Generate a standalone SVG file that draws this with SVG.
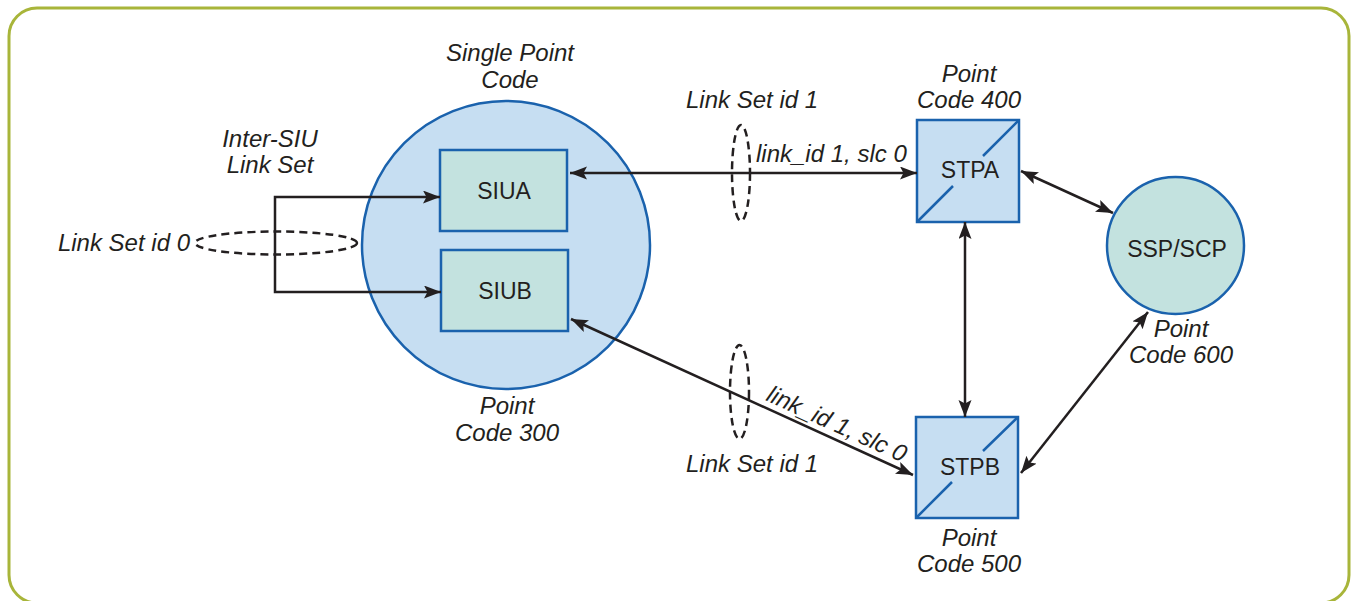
<svg xmlns="http://www.w3.org/2000/svg" width="1353" height="601" viewBox="0 0 1353 601">
<style>
.lbl{font-family:"Liberation Sans",Arial,sans-serif;font-size:24px;font-style:italic;fill:#231f20;text-anchor:middle}
.lbl-r{font-family:"Liberation Sans",Arial,sans-serif;font-size:24px;font-style:italic;fill:#231f20;text-anchor:end}
.lbl-s{font-family:"Liberation Sans",Arial,sans-serif;font-size:24px;font-style:italic;fill:#231f20;text-anchor:start}
.name{font-family:"Liberation Sans",Arial,sans-serif;font-size:23px;fill:#231f20;text-anchor:middle}
.conn{stroke:#231f20;stroke-width:2.5;fill:none}
.dash{stroke:#231f20;stroke-width:2.5;fill:none;stroke-dasharray:8 5}
.blue{fill:#c6def2;stroke:#1a62ad;stroke-width:2.5}
.teal{fill:#c3e2df;stroke:#1a62ad;stroke-width:2.5}
.diag{stroke:#1a62ad;stroke-width:2.5;fill:none}
</style>
<defs>
<marker id="ah" markerUnits="userSpaceOnUse" markerWidth="19" markerHeight="14" refX="17" refY="6.5" orient="auto-start-reverse" viewBox="0 0 19 14">
<path d="M0,0 L17,6.5 L0,13 L3.5,6.5 z" fill="#231f20"/>
</marker>
</defs>
<rect x="9" y="8" width="1340" height="595" rx="28" ry="28" fill="#ffffff" stroke="#a8b53a" stroke-width="3"/>

<g id="spc">
<circle cx="506" cy="245" r="144" class="blue" stroke-width="2"/>
<text class="lbl" x="510" y="61">Single Point</text>
<text class="lbl" x="510" y="88">Code</text>
<text class="lbl" x="507" y="414">Point</text>
<text class="lbl" x="507" y="441">Code 300</text>
</g>

<g id="siua">
<rect x="440" y="150" width="127" height="81" class="teal"/>
<text class="name" x="504" y="199">SIUA</text>
</g>

<g id="siub">
<rect x="441" y="250" width="127" height="81" class="teal"/>
<text class="name" x="505" y="299">SIUB</text>
</g>

<g id="stpa">
<rect x="917" y="120" width="102" height="102" class="blue"/>
<path class="diag" d="M917,222 L953,186 M983,156 L1019,120"/>
<text class="name" x="970" y="178">STPA</text>
<text class="lbl" x="969" y="82">Point</text>
<text class="lbl" x="969" y="108">Code 400</text>
</g>

<g id="stpb">
<rect x="916" y="417" width="102" height="101" class="blue"/>
<path class="diag" d="M916,518 L952,482 M983,451 L1018,417"/>
<text class="name" x="970" y="475">STPB</text>
<text class="lbl" x="969" y="546">Point</text>
<text class="lbl" x="969" y="572">Code 500</text>
</g>

<g id="sspscp">
<circle cx="1175.5" cy="245.5" r="68.5" class="teal" stroke-width="2"/>
<text class="name" x="1177" y="257">SSP/SCP</text>
<text class="lbl" x="1181" y="337">Point</text>
<text class="lbl" x="1181" y="363">Code 600</text>
</g>

<g id="connectors">
<path class="conn" d="M440,197 H275 V292 H441" marker-start="url(#ah)" marker-end="url(#ah)"/>
<line class="conn" x1="570" y1="173" x2="917" y2="173" marker-start="url(#ah)" marker-end="url(#ah)"/>
<line class="conn" x1="571" y1="319" x2="913" y2="475" marker-start="url(#ah)" marker-end="url(#ah)"/>
<line class="conn" x1="965" y1="222" x2="965" y2="417" marker-start="url(#ah)" marker-end="url(#ah)"/>
<line class="conn" x1="1021" y1="171" x2="1113" y2="213" marker-start="url(#ah)" marker-end="url(#ah)"/>
<line class="conn" x1="1021" y1="473" x2="1148" y2="312" marker-start="url(#ah)" marker-end="url(#ah)"/>
</g>

<g id="linkset0">
<ellipse cx="276" cy="243" rx="81" ry="11.5" class="dash"/>
<text class="lbl-r" x="190" y="251">Link Set id 0</text>
<text class="lbl" x="270" y="147">Inter-SIU</text>
<text class="lbl" x="270" y="173">Link Set</text>
</g>

<g id="linkset1a">
<ellipse cx="741" cy="173" rx="9" ry="48" class="dash"/>
<text class="lbl-s" x="686" y="108">Link Set id 1</text>
<text class="lbl-s" x="756" y="162">link_id 1, slc 0</text>
</g>

<g id="linkset1b">
<ellipse cx="739.5" cy="392" rx="9.5" ry="47" class="dash"/>
<text class="lbl-s" x="686" y="472">Link Set id 1</text>
<text class="lbl-s" transform="translate(765,400) rotate(24.5)">link_id 1, slc 0</text>
</g>
</svg>
